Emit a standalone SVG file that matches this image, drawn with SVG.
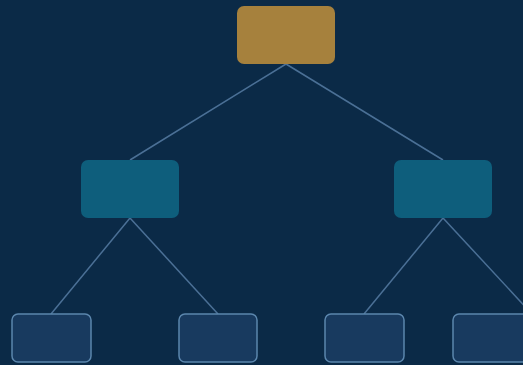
<svg xmlns="http://www.w3.org/2000/svg" width="523" height="365" viewBox="0 0 523 365">
<style>
.edge{stroke:#4b7096;stroke-width:1.5;fill:none}
.root{fill:#a6813d}
.mid{fill:#0e5e7c}
.leaf{fill:#183a5f;stroke:#5b86ad;stroke-width:1.5}
</style>
<rect x="0" y="0" width="523" height="365" fill="#0b2a47"/>
<g id="connectors">
<line class="edge" x1="286" y1="64" x2="130" y2="160"/>
<line class="edge" x1="286" y1="64" x2="443" y2="160"/>
<line class="edge" x1="130" y1="218" x2="51" y2="314"/>
<line class="edge" x1="130" y1="218" x2="218" y2="314"/>
<line class="edge" x1="443" y1="218" x2="364" y2="314"/>
<line class="edge" x1="443" y1="218" x2="532" y2="314"/>
</g>
<g id="root"><rect class="root" x="237" y="6" width="98" height="58" rx="7"/></g>
<g id="mid-left"><rect class="mid" x="81" y="160" width="98" height="58" rx="7"/></g>
<g id="mid-right"><rect class="mid" x="394" y="160" width="98" height="58" rx="7"/></g>
<g id="leaf-1"><rect class="leaf" x="12" y="314" width="79" height="48" rx="6"/></g>
<g id="leaf-2"><rect class="leaf" x="179" y="314" width="78" height="48" rx="6"/></g>
<g id="leaf-3"><rect class="leaf" x="325" y="314" width="79" height="48" rx="6"/></g>
<g id="leaf-4"><rect class="leaf" x="453" y="314" width="79" height="48" rx="6"/></g>
</svg>
